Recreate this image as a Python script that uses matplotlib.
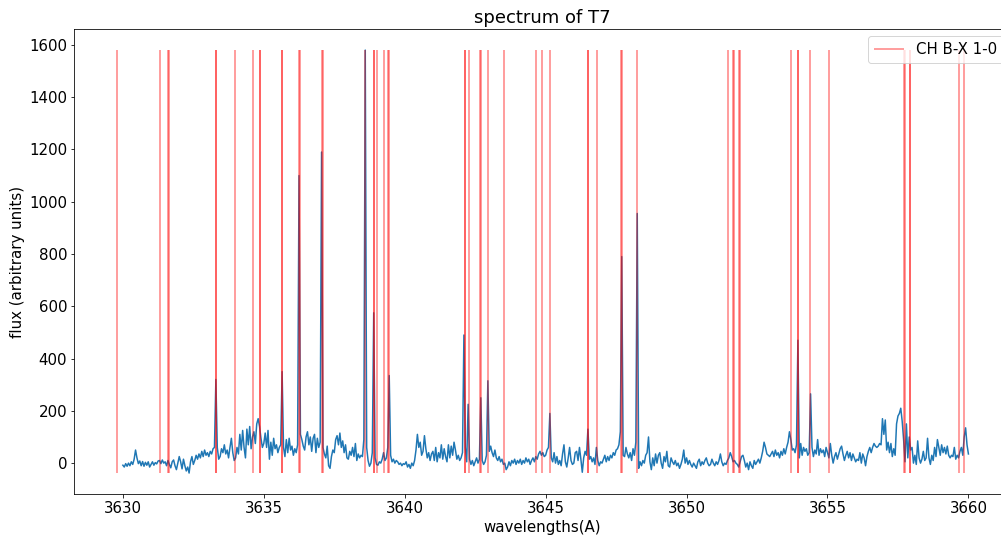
import numpy as np
import matplotlib
matplotlib.use('Agg')
from matplotlib import pyplot as plt

plt.rcParams['font.size'] = 15

# flux sampled every 0.05 A from 3630 to 3660, one row per angstrom
flux = [
    -8, -15, -2, -12, 0, -10, 5, -5, 15, 50, 20, -2, 8, -10, 6, -12, 3, -8, 5, -15,
    -5, 5, -8, 2, -3, 8, 10, -2, 12, 0, 5, -10, 10, -5, -18, 5, 12, -10, -25, 0,
    25, 5, -22, 15, -10, -30, -15, -38, 5, 25, -5, 10, 30, 15, 35, 20, 45, 25, 50, 30,
    40, 25, 45, 35, 55, 60, 320, 60, 15, 25, 55, 40, 70, 35, 50, 20, 60, 95, 40, 10,
    20, 60, 35, 110, 50, 125, 60, 20, 130, 70, 140, 55, 100, 120, 75, 150, 170, 140, 95, 60,
    75, 115, 60, 125, 15, 80, 30, 95, 55, 70, 40, 60, 70, 350, 60, 25, 90, 40, 95, 50,
    65, 30, 55, 40, 70, 1100, 110, 90, 65, 50, 100, 120, 70, 100, 45, 95, 110, 40, 95, 60,
    80, 1190, 60, 35, 20, 65, -10, -20, 25, 50, 40, 90, 105, 70, 115, 60, 85, 40, 70, 20,
    15, 45, 30, 60, 25, 75, 10, 35, 20, 30, 25, 90, 1580, 60, 10, -12, 0, 40, 575, 20,
    -5, -8, 5, 0, 15, 40, 10, 20, 60, 335, 30, 5, 15, 0, 10, 5, -5, 0, -10, -2,
    -5, 5, -15, -5, -20, 0, -10, 10, 50, 110, 60, 80, 30, 45, 105, 55, 20, 40, 10, 35,
    45, 10, 60, 5, 40, 20, 70, 15, 55, 25, 5, 70, 20, 65, 30, 80, 50, 15, 30, 10,
    20, 40, 490, 60, 5, 225, 15, -5, 10, -10, 5, 20, 0, 15, 250, 10, -5, 5, 30, 315,
    45, 65, 40, 25, 50, 20, 10, 25, 5, 15, -5, 0, -25, -15, 5, -10, 10, 0, 15, -5,
    10, 0, 15, -5, 10, 0, 20, 5, 15, -5, 10, 20, 5, 25, 15, 35, 45, 30, 40, 25,
    30, 50, 60, 190, 20, 5, 40, 0, 25, -5, 10, -10, 35, 70, 5, -15, 20, 60, 10, -5,
    0, 40, 45, 10, 60, 15, -35, 20, 45, 30, 130, 15, 25, 5, 20, -5, 60, 10, -10, 5,
    0, 15, 30, 5, 25, 10, 30, 20, 40, 30, 50, 55, 70, 120, 790, 30, 25, 60, 35, 20,
    40, 10, 55, 30, 80, 955, -20, 5, -10, 10, 0, 30, 40, 100, 5, -25, 20, -10, 35, 0,
    30, 40, 0, -20, 25, 5, 45, -10, -15, 20, 5, -5, 10, -10, 0, -20, -5, 15, 50, 0,
    20, -5, 10, -5, -15, 0, -10, -20, 5, 15, -10, 5, -5, 10, 20, 0, -10, -5, 15, 0,
    -10, 5, -5, 10, 35, 5, -10, 0, -5, 10, 20, 40, 25, 5, 10, 0, -5, -15, 5, 25,
    30, 10, -15, 0, -25, 5, -10, -20, 10, -5, 5, 15, 0, 20, 45, 80, 60, 35, 30, 25,
    35, 45, 25, 50, 30, 40, 20, 45, 30, 55, 35, 60, 80, 120, 90, 50, 55, 40, 70, 470,
    20, 75, 30, 60, 45, 55, 30, 40, 265, 60, 25, 50, 35, 90, 30, 55, 40, 50, 25, 60,
    40, 20, 75, 30, 0, 25, 40, 15, 35, 55, 65, 35, 10, 30, 45, 20, 40, 10, 35, 20,
    5, 15, 10, 40, 0, 35, 20, -10, 25, 45, 60, 40, 60, 75, 65, 60, 65, 75, 70, 170,
    110, 165, 50, 80, 40, 75, 25, 55, 30, 150, 180, 190, 210, 160, 90, 5, 150, 20, 100, 50,
    60, 0, 30, -5, 85, 20, 0, 15, 45, 10, 20, 95, 20, -5, 30, 10, 60, 25, 90, 60,
    30, 70, 40, 60, 35, 65, 30, 20, 30, 25, 60, 15, 30, 20, 45, 60, 30, 100, 135, 70,
    35,
]
wavelengths = np.linspace(3630, 3660, len(flux))

# CH B-X (1-0) line positions in angstrom (close pairs are Lambda doublets)
ch_lines = [3629.78, 3631.31, 3631.60, 3631.62, 3633.29, 3633.31, 3633.97, 3634.62,
            3634.85, 3634.87, 3635.63, 3635.65, 3636.24, 3636.29, 3637.07, 3637.09,
            3638.58, 3638.90, 3638.91, 3639.00, 3639.27, 3639.41, 3639.44,
            3642.13, 3642.15, 3642.28, 3642.67, 3642.69, 3642.97, 3643.52, 3644.67,
            3644.87, 3645.14, 3646.50, 3646.52, 3646.82, 3647.69, 3647.71, 3648.25,
            3651.48, 3651.64, 3651.67, 3651.87, 3651.90, 3653.69, 3653.95, 3653.97,
            3654.37, 3655.04, 3657.71, 3657.75, 3657.92, 3657.94, 3659.67, 3659.85]

fig = plt.figure(figsize=(1001 / 72, 536 / 72), dpi=72)
ax = fig.add_axes([0.074, 0.078, 0.936, 0.868])
ax.plot(wavelengths, flux)
ax.vlines(ch_lines, min(flux), max(flux), colors='r', alpha=0.5, label='CH B-X 1-0')
ax.set_title('spectrum of T7')
ax.set_xlabel('wavelengths(A)')
ax.set_ylabel('flux (arbitrary units)')
ax.legend(loc='upper right')
fig.savefig('out.png', dpi=72)
